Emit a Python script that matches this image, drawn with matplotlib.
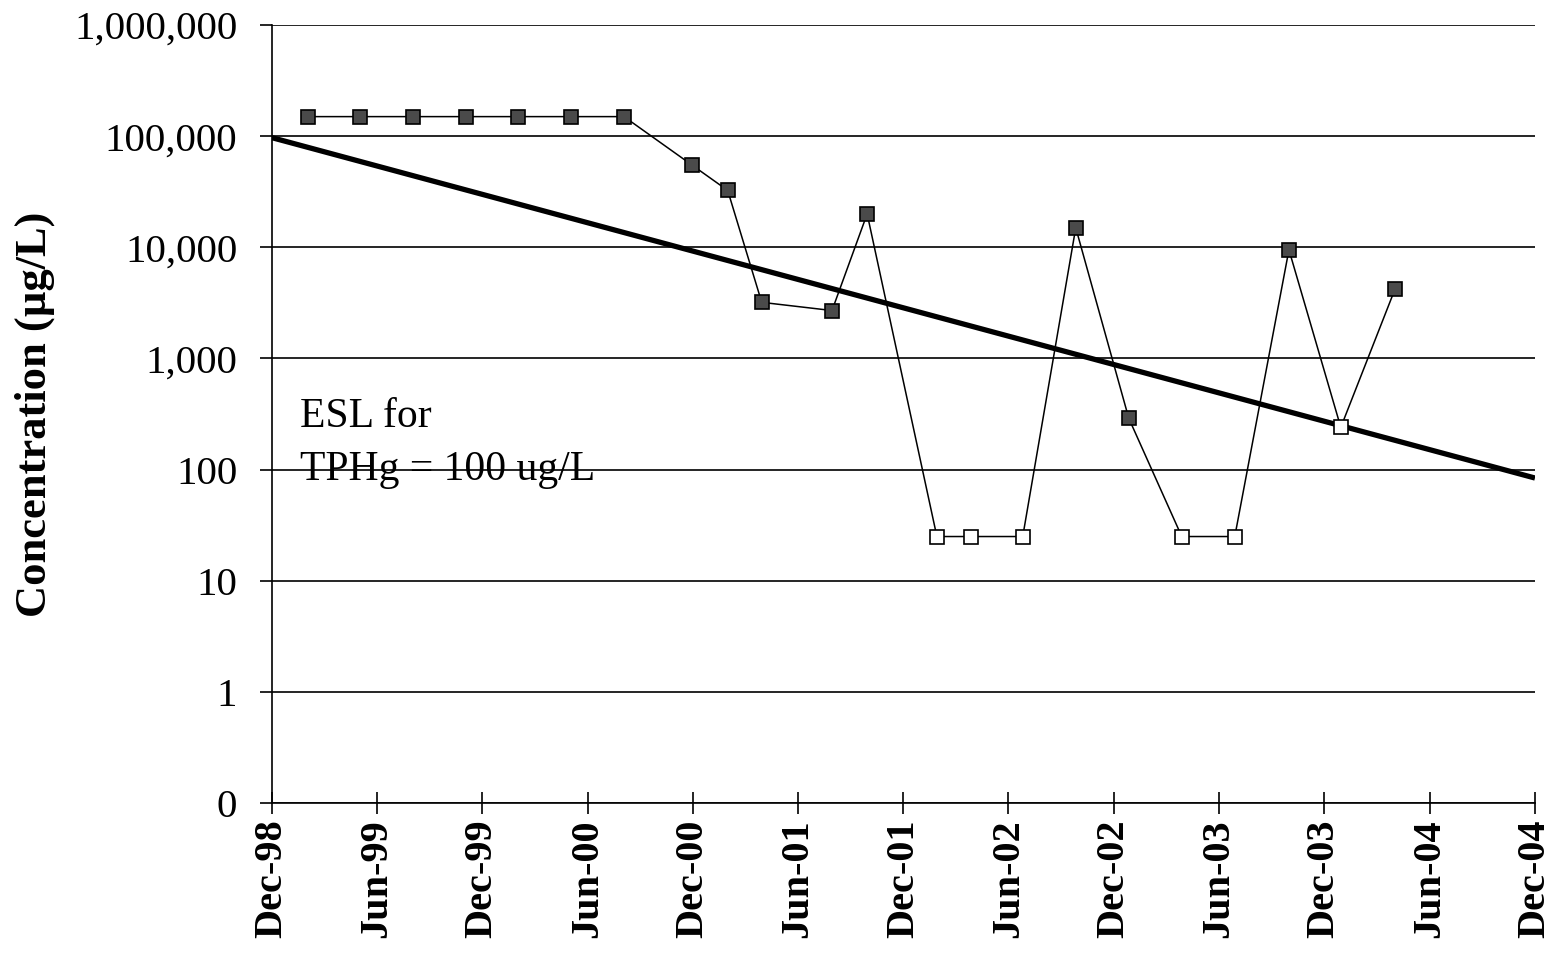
import datetime as dt
import matplotlib
matplotlib.use("Agg")
import matplotlib.pyplot as plt
import matplotlib.dates as mdates
from matplotlib.ticker import FixedLocator, FuncFormatter

# sample dates and TPHg concentrations (ug/L)
dates = [
    dt.date(1999, 2, 1), dt.date(1999, 5, 3), dt.date(1999, 8, 3), dt.date(1999, 11, 3),
    dt.date(2000, 2, 1), dt.date(2000, 5, 3), dt.date(2000, 8, 3), dt.date(2000, 11, 29),
    dt.date(2001, 1, 30), dt.date(2001, 3, 30), dt.date(2001, 7, 30), dt.date(2001, 9, 29),
    dt.date(2002, 1, 28), dt.date(2002, 3, 28), dt.date(2002, 6, 26), dt.date(2002, 9, 26),
    dt.date(2002, 12, 27), dt.date(2003, 3, 29), dt.date(2003, 6, 29), dt.date(2003, 10, 1),
    dt.date(2003, 12, 30), dt.date(2004, 4, 2),
]
conc = [150000, 150000, 150000, 150000, 150000, 150000, 150000, 55000,
        32500, 3200, 2700, 20000, 25, 25, 25, 15000,
        290, 25, 25, 9500, 240, 4200]
# True = detected (filled marker), False = non-detect (open marker)
detected = [True] * 12 + [False] * 3 + [True, True, False, False, True, False, True]

trend_dates = [dt.date(1998, 12, 1), dt.date(2004, 12, 1)]
trend_vals = [97000, 84]

tick_dates = [dt.date(1998 + (m + 11) // 12, (m + 11) % 12 + 1, 1) for m in range(0, 73, 6)]
y_ticks = [0.1, 1, 10, 100, 1000, 10000, 100000, 1000000]

serif = ["Liberation Serif", "DejaVu Serif"]
plt.rcParams["font.family"] = serif

fig = plt.figure(figsize=(15.53, 9.56), dpi=100)
ax = fig.add_axes([0.1751, 0.16, 0.8133, 0.8138])

ax.set_yscale("log")
ax.set_ylim(0.1, 1000000)
ax.set_xlim(mdates.date2num(trend_dates[0]), mdates.date2num(trend_dates[1]))

ax.yaxis.set_major_locator(FixedLocator(y_ticks))
ax.yaxis.set_minor_locator(FixedLocator([]))
ax.yaxis.set_major_formatter(FuncFormatter(lambda v, p: "0" if v < 1 else f"{v:,.0f}"))
ax.grid(axis="y", color="black", lw=1.2)
ax.set_axisbelow(True)

ax.xaxis.set_major_locator(FixedLocator(mdates.date2num(tick_dates)))
ax.xaxis.set_major_formatter(mdates.DateFormatter("%b-%y"))

ax.tick_params(axis="y", direction="out", length=9, width=1.2, pad=16, labelsize=29.5)
ax.tick_params(axis="x", direction="inout", length=16, width=1.2, pad=4, labelsize=29)
for lbl in ax.get_xticklabels():
    lbl.set_rotation(90)
    lbl.set_fontweight("bold")

for s in ["top", "right"]:
    ax.spines[s].set_visible(False)
for s in ["left", "bottom"]:
    ax.spines[s].set_linewidth(1.2)

ax.plot(trend_dates, trend_vals, color="black", lw=3.8, solid_capstyle="butt", zorder=3)
ax.plot(dates, conc, color="black", lw=1.1, zorder=4)
det_d = [d for d, f in zip(dates, detected) if f]
det_c = [c for c, f in zip(conc, detected) if f]
nd_d = [d for d, f in zip(dates, detected) if not f]
nd_c = [c for c, f in zip(conc, detected) if not f]
ax.plot(det_d, det_c, ls="none", marker="s", ms=9.5, mfc="#4a4a4a", mec="black", mew=1.2, zorder=5)
ax.plot(nd_d, nd_c, ls="none", marker="s", ms=9.5, mfc="white", mec="black", mew=1.2, zorder=5)

ax.set_ylabel("Concentration (\u00b5g/L)", fontsize=32, fontweight="bold", labelpad=14)

ax.text(0.022, 0.483, "ESL for", transform=ax.transAxes, fontsize=30, va="baseline", ha="left")
ax.text(0.022, 0.415, "TPHg = 100 ug/L", transform=ax.transAxes, fontsize=30, va="baseline", ha="left")

fig.savefig("out.png", dpi=100)
